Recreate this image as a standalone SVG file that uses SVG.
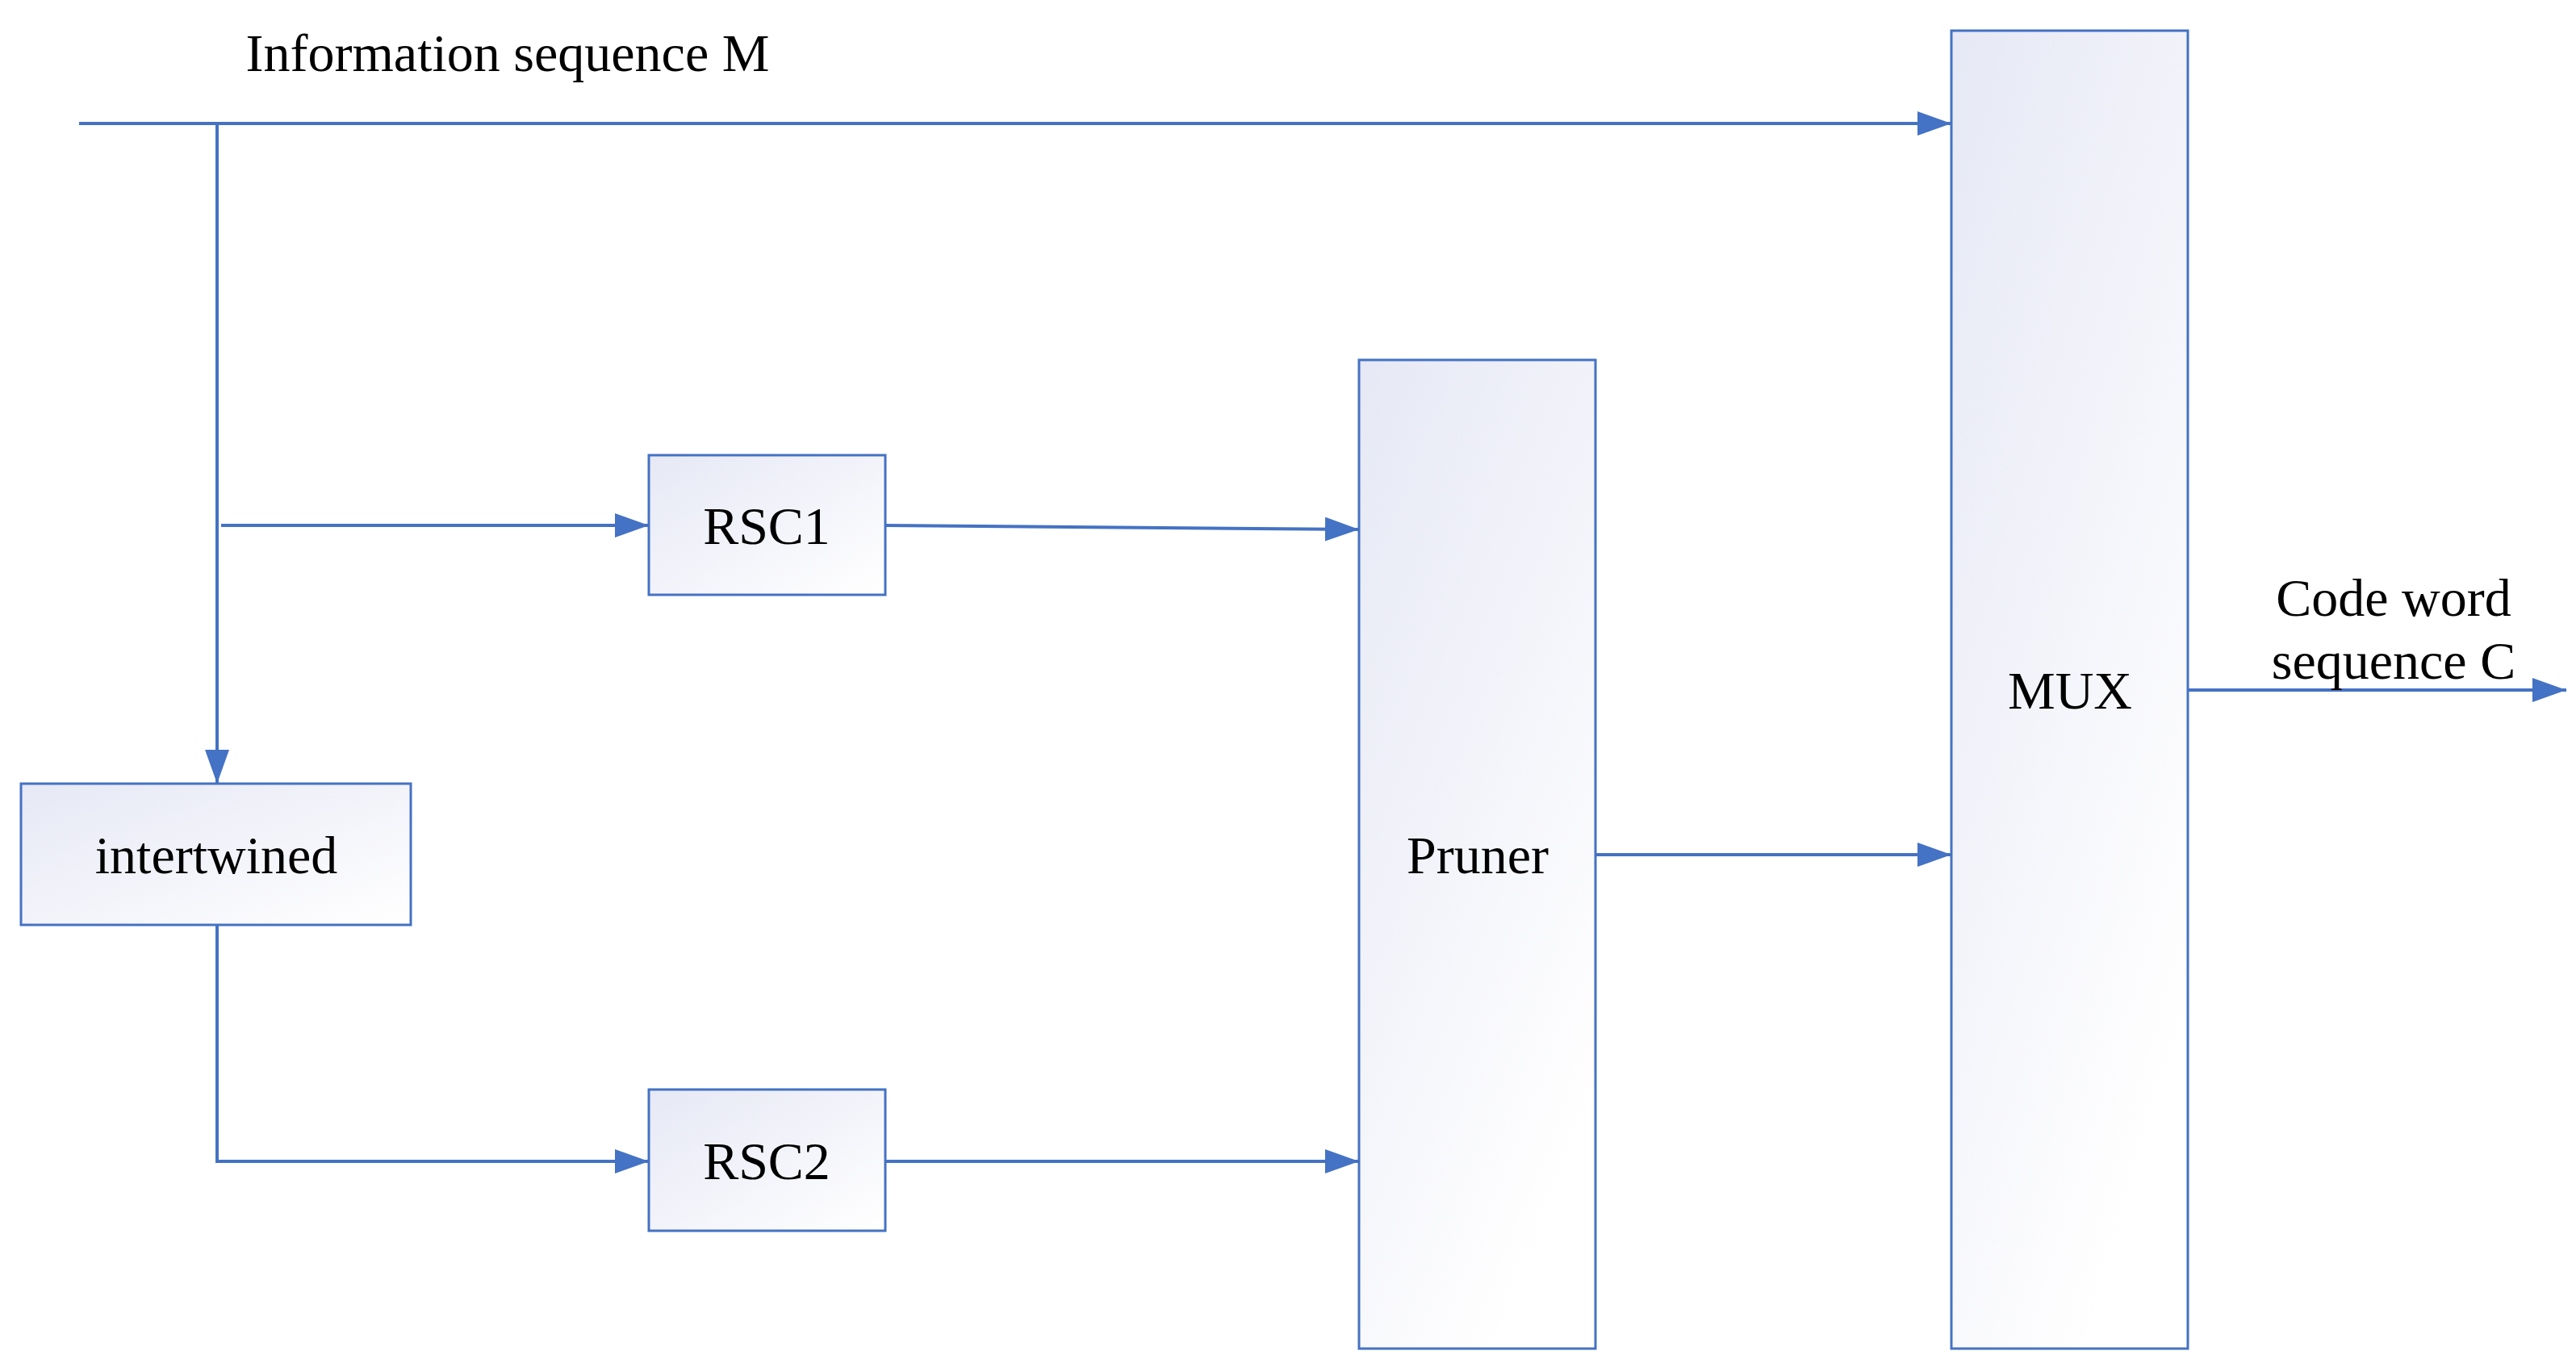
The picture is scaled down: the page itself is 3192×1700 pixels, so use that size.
<svg xmlns="http://www.w3.org/2000/svg" width="3192" height="1700" viewBox="0 0 3192 1700">
<style>
.box{stroke:#4472c4;stroke-width:3;fill:url(#g)}
.tall{stroke:#4472c4;stroke-width:3;fill:url(#gt)}
.ln{stroke:#4472c4;stroke-width:4;fill:none}
.ar{marker-end:url(#a)}
text{font-family:"Liberation Serif","Times New Roman",serif;font-size:66px;fill:#000;text-anchor:middle}
</style>
<defs>
<linearGradient id="g" x1="0" y1="0" x2="1" y2="1"><stop offset="0" stop-color="#e6e8f5"/><stop offset="1" stop-color="#ffffff"/></linearGradient>
<linearGradient id="gt" x1="0" y1="0" x2="0.6" y2="1"><stop offset="0" stop-color="#e6e8f5"/><stop offset="1" stop-color="#ffffff"/></linearGradient>
<marker id="a" markerUnits="userSpaceOnUse" markerWidth="44" markerHeight="30" refX="42" refY="15" orient="auto"><path d="M0,0 L42,15 L0,30 Z" fill="#4472c4"/></marker>
</defs>
<rect width="3192" height="1700" fill="#fff"/>
<text x="629" y="88">Information sequence M</text>
<g id="connectors">
<path class="ln ar" d="M98,153 H2418"/>
<path class="ln ar" d="M269,153 V971"/>
<path class="ln ar" d="M274,651 H804"/>
<path class="ln ar" d="M1097,651 L1684,656"/>
<path class="ln ar" d="M269,1146 V1439 H804"/>
<path class="ln ar" d="M1097,1439 H1684"/>
<path class="ln ar" d="M1977,1059 H2418"/>
<path class="ln ar" d="M2711,855 H3180"/>
</g>
<g id="rsc1"><rect class="box" x="804" y="564" width="293" height="173"/><text x="950" y="674">RSC1</text></g>
<g id="rsc2"><rect class="box" x="804" y="1350" width="293" height="175"/><text x="950" y="1461">RSC2</text></g>
<g id="intertwined"><rect class="box" x="26" y="971" width="483" height="175"/><text x="268" y="1082">intertwined</text></g>
<g id="pruner"><rect class="tall" x="1684" y="446" width="293" height="1225"/><text x="1831" y="1082">Pruner</text></g>
<g id="mux"><rect class="tall" x="2418" y="38" width="293" height="1633"/><text x="2565" y="878">MUX</text></g>
<g id="out"><text x="2966" y="763">Code word</text><text x="2966" y="841">sequence C</text></g>
</svg>
